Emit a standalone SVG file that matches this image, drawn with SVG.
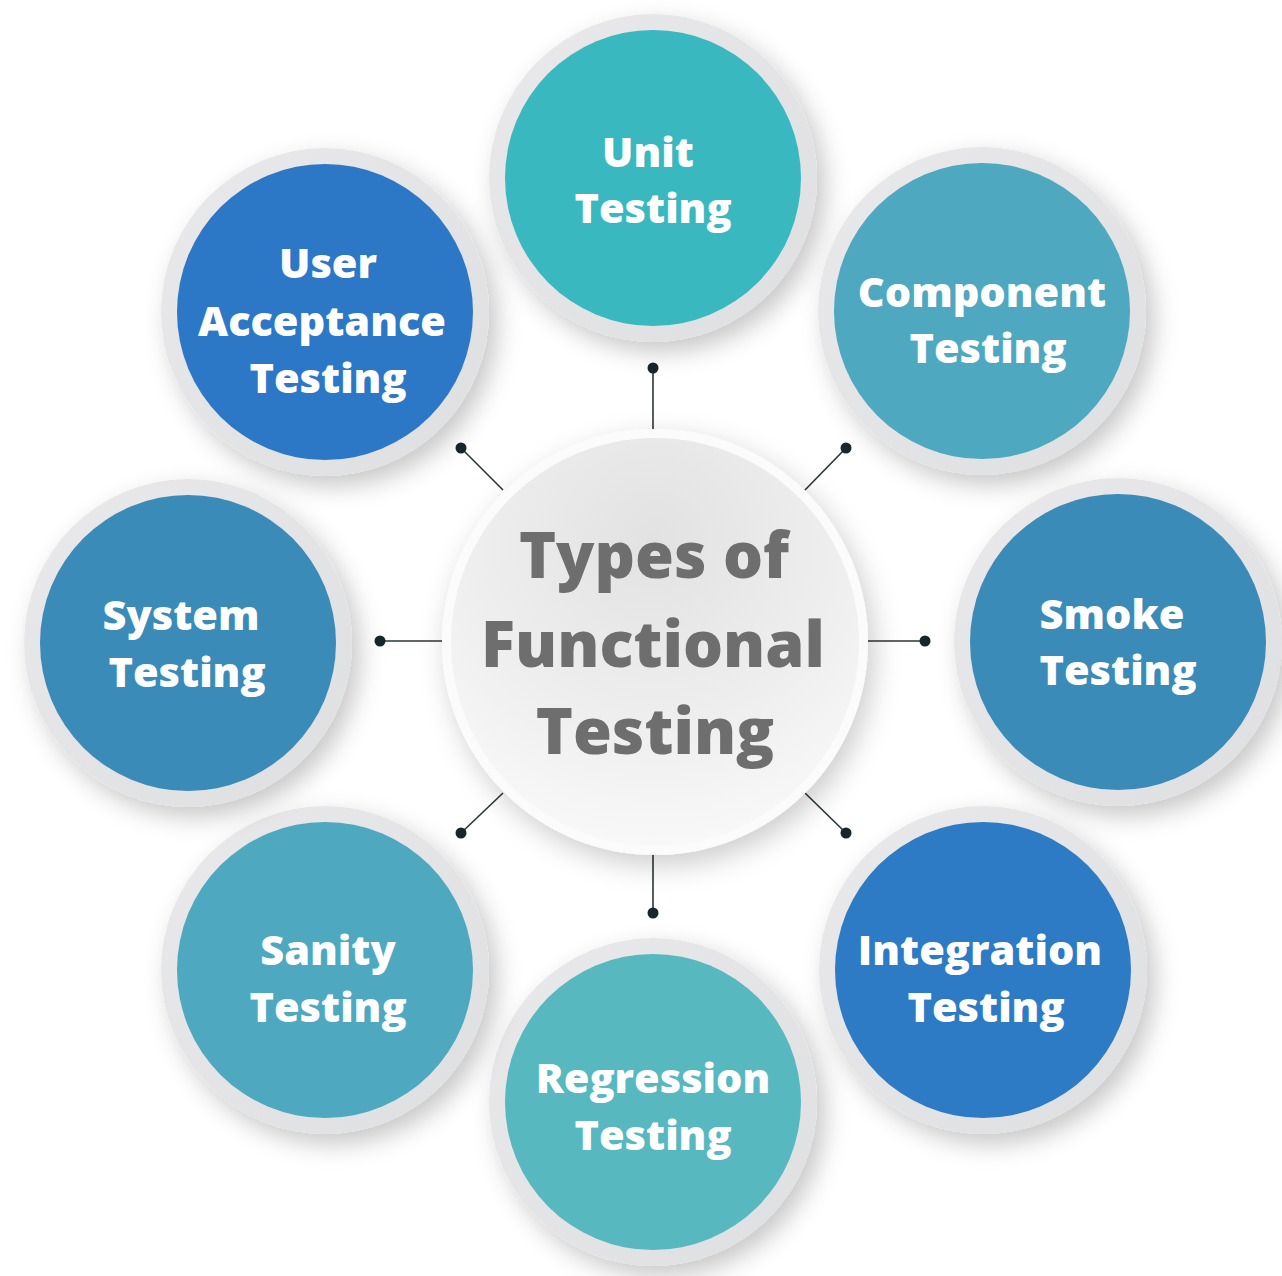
<svg xmlns="http://www.w3.org/2000/svg" width="1282" height="1276" viewBox="0 0 1282 1276">
  <defs>
    <filter id="shadow" x="-30%" y="-30%" width="160%" height="160%">
      <feDropShadow dx="8" dy="10" stdDeviation="12" flood-color="#000" flood-opacity="0.22"/>
    </filter>
    <filter id="shadowC" x="-30%" y="-30%" width="160%" height="160%">
      <feDropShadow dx="6" dy="10" stdDeviation="14" flood-color="#000" flood-opacity="0.2"/>
    </filter>
    <linearGradient id="ring" x1="0" y1="0" x2="1" y2="1">
      <stop offset="0" stop-color="#e9e9eb"/>
      <stop offset="1" stop-color="#dedfe1"/>
    </linearGradient>
    <radialGradient id="centerFill" cx="0.5" cy="0.25" r="0.8">
      <stop offset="0" stop-color="#e2e2e2"/>
      <stop offset="0.6" stop-color="#efefef"/>
      <stop offset="1" stop-color="#fafafa"/>
    </radialGradient>
  </defs>
  <style>
    .ring { fill: url(#ring); filter: url(#shadow); }
    .lbl { font-family: "Open Sans", "Noto Sans", "Liberation Sans", sans-serif; font-weight: 800; font-size: 41.5px; fill: #ffffff; text-anchor: middle; }
    .ctr { font-family: "Open Sans", "Noto Sans", "Liberation Sans", sans-serif; font-weight: 800; font-size: 63px; fill: #6e6e6e; text-anchor: middle; }
    .conn line { stroke: #2b3535; stroke-width: 1.6; }
    .conn circle { fill: #17262a; }
  </style>
  <rect width="1282" height="1276" fill="#ffffff"/>

  <g id="connectors" class="conn">
    <line x1="653" y1="368" x2="653" y2="430"/>
    <line x1="653" y1="913" x2="653" y2="854"/>
    <line x1="380" y1="641" x2="442" y2="641"/>
    <line x1="925" y1="641" x2="868" y2="641"/>
    <line x1="461" y1="448" x2="503" y2="490"/>
    <line x1="846" y1="448" x2="805" y2="490"/>
    <line x1="461" y1="833" x2="503" y2="793"/>
    <line x1="846" y1="833" x2="805" y2="793"/>
    <circle cx="653" cy="368" r="5.5"/>
    <circle cx="653" cy="913" r="5.5"/>
    <circle cx="380" cy="641" r="5.5"/>
    <circle cx="925" cy="641" r="5.5"/>
    <circle cx="461" cy="448" r="5.5"/>
    <circle cx="846" cy="448" r="5.5"/>
    <circle cx="461" cy="833" r="5.5"/>
    <circle cx="846" cy="833" r="5.5"/>
  </g>

  <g id="center">
    <circle cx="655" cy="642" r="213" fill="#fbfbfb" filter="url(#shadowC)"/>
    <circle cx="655" cy="642" r="204" fill="url(#centerFill)"/>
    <text class="ctr" x="654" y="578">Types of</text>
    <text class="ctr" x="653" y="667">Functional</text>
    <text class="ctr" x="655" y="754">Testing</text>
  </g>

  <g id="unit-testing">
    <circle class="ring" cx="653" cy="178" r="164"/>
    <circle cx="653" cy="178" r="148" fill="#3ab8c0"/>
    <text class="lbl" x="648" y="167">Unit</text>
    <text class="lbl" x="653" y="223">Testing</text>
  </g>

  <g id="component-testing">
    <circle class="ring" cx="982" cy="311" r="164"/>
    <circle cx="982" cy="311" r="148" fill="#4da8c0"/>
    <text class="lbl" x="982" y="307">Component</text>
    <text class="lbl" x="988" y="363">Testing</text>
  </g>

  <g id="smoke-testing">
    <circle class="ring" cx="1118" cy="642" r="164"/>
    <circle cx="1118" cy="642" r="148" fill="#3a8bb8"/>
    <text class="lbl" x="1112" y="629">Smoke</text>
    <text class="lbl" x="1118" y="685">Testing</text>
  </g>

  <g id="integration-testing">
    <circle class="ring" cx="983" cy="970" r="164"/>
    <circle cx="983" cy="970" r="148" fill="#2c7bc4"/>
    <text class="lbl" x="980" y="965">Integration</text>
    <text class="lbl" x="986" y="1022">Testing</text>
  </g>

  <g id="regression-testing">
    <circle class="ring" cx="653" cy="1102" r="164"/>
    <circle cx="653" cy="1102" r="148" fill="#57b8c0"/>
    <text class="lbl" x="653" y="1093">Regression</text>
    <text class="lbl" x="653" y="1150">Testing</text>
  </g>

  <g id="sanity-testing">
    <circle class="ring" cx="325" cy="970" r="164"/>
    <circle cx="325" cy="970" r="148" fill="#4da8c0"/>
    <text class="lbl" x="328" y="965">Sanity</text>
    <text class="lbl" x="328" y="1022">Testing</text>
  </g>

  <g id="system-testing">
    <circle class="ring" cx="188" cy="643" r="164"/>
    <circle cx="188" cy="643" r="148" fill="#3a8bb8"/>
    <text class="lbl" x="181" y="630">System</text>
    <text class="lbl" x="187" y="687">Testing</text>
  </g>

  <g id="user-acceptance-testing">
    <circle class="ring" cx="325" cy="312" r="164"/>
    <circle cx="325" cy="312" r="148" fill="#2c78c6"/>
    <text class="lbl" x="328" y="278">User</text>
    <text class="lbl" x="322" y="336">Acceptance</text>
    <text class="lbl" x="328" y="393">Testing</text>
  </g>
</svg>
